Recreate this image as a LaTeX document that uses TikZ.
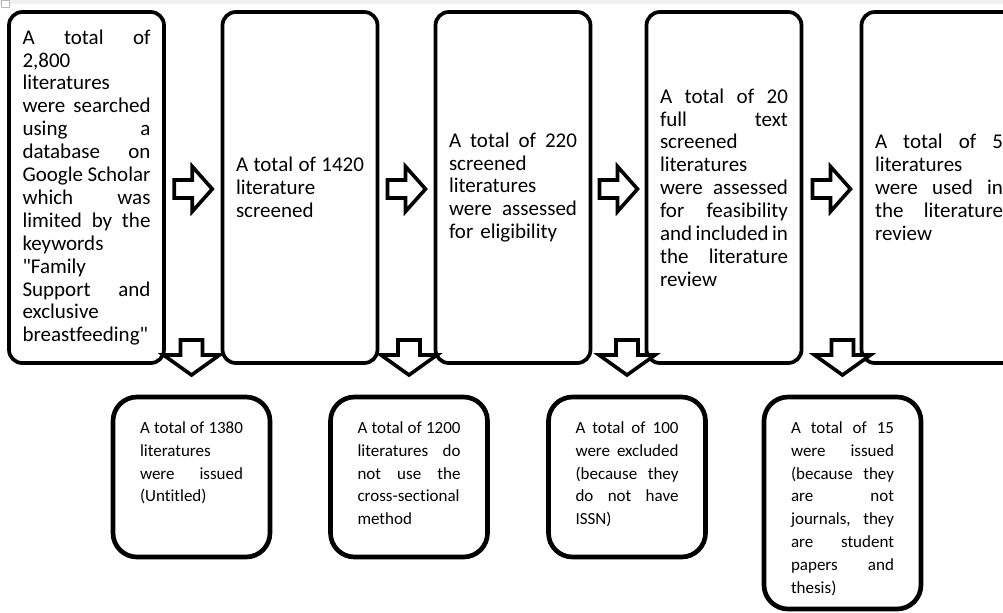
\documentclass[tikz,border=0pt]{standalone}
\usepackage{fontspec}
\setmainfont{Carlito}[Ligatures=NoCommon]
\newfontfamily\qfont{Carlito}
\usetikzlibrary{calc}
\newcommand\J[1]{\makebox[\linewidth][s]{\spaceskip=0pt\xspaceskip=0pt #1}}
\newcommand\dq{{\qfont"}}
\tikzset{
  topbox/.style={draw, line width=2.8pt, rounded corners=10pt, outer sep=0pt,
    minimum width=116.25pt, minimum height=263.25pt, text width=96pt, inner xsep=10pt,
    font=\fontsize{15.75}{17.17}\selectfont},
  botbox/.style={draw, line width=3.5pt, rounded corners=18pt, outer sep=0pt,
    minimum width=117.75pt, inner sep=0pt,
    font=\fontsize{12.75}{17.15}\selectfont},
  arrowline/.style={draw, line width=2.7pt, fill=white, line join=miter},
  rarrow/.pic={\path[arrowline] (-19,-9) -- (-1,-9) -- (-1,-22.5) -- (19,0) -- (-1,22.5) -- (-1,9) -- (-19,9) -- cycle;},
  darrow/.pic={\path[arrowline] (-11,-35) -- (11,-35) -- (11,-20) -- (28,-20) -- (0,0) -- (-28,-20) -- (-11,-20) -- (-11,-35) -- cycle;}
}
\begin{document}
\begin{tikzpicture}[x=0.75pt, y=-0.75pt]
\useasboundingbox (0,0) rectangle (1003,612);
\clip (0,0) rectangle (1003,612);
\fill[white] (0,0) rectangle (1003,612);
\fill[gray!12] (0,0) rectangle (1003,4);
\draw[gray!55, line width=0.6pt, fill=white] (1,0) rectangle (9,7);

% top row
\node[topbox] (t1) at (86.5,187.5) {\J{A total of}\\
2,800\\
literatures\\
\J{were searched}\\
\J{using a}\\
\J{database on}\\
\J{Google Scholar}\\
\J{which was}\\
\J{limited by the}\\
keywords\\
\dq Family\\
\J{Support and}\\
exclusive\\
breastfeeding\dq};
\node[topbox] (t2) at (300,187.5) {\J{A total of 1420}\\ literature\\ screened};
\node[topbox] (t3) at (513,187.5) {\J{A total of 220}\\ screened\\ literatures\\ \J{were assessed}\\ for eligibility};
\node[topbox] (t4) at (724,187.5) {\J{A total of 20}\\ \J{full text}\\ screened\\ literatures\\ \J{were assessed}\\ \J{for feasibility}\\ \J{and included in}\\ \J{the literature}\\ review};
\node[topbox] (t5) at (939,187.5) {\J{A total of 5}\\ literatures\\ \J{were used in}\\ \J{the literature}\\ review};

% bottom row
\node[botbox, minimum height=120pt] (b1) at (191.5,477) {\parbox[c][83.25pt][t]{77.25pt}{\J{A total of 1380}\\ literatures\\ \J{were issued}\\ (Untitled)}};
\node[botbox, minimum height=120pt] (b2) at (409,477) {\parbox[c][83.25pt][t]{77.25pt}{\J{A total of 1200}\\ \J{literatures do}\\ \J{not use the}\\ cross-sectional\\ method}};
\node[botbox, minimum height=120pt] (b3) at (627,477) {\parbox[c][83.25pt][t]{77.25pt}{\J{A total of 100}\\ \J{were excluded}\\ \J{(because they}\\ \J{do not have}\\ ISSN)}};
\node[botbox, minimum height=159pt] (b4) at (842.5,503) {\parbox[c][122.25pt][t]{77.25pt}{\J{A total of 15}\\ \J{were issued}\\ \J{(because they}\\ \J{are not}\\ \J{journals, they}\\ \J{are student}\\ \J{papers and}\\ thesis)}};

% right block arrows between top boxes
\pic (r1) at ($(t1.east)!0.5!(t2.west)+(0,1.5)$) {rarrow};
\pic (r2) at ($(t2.east)!0.5!(t3.west)+(0,1.5)$) {rarrow};
\pic (r3) at ($(t3.east)!0.5!(t4.west)+(0,1.5)$) {rarrow};
\pic (r4) at ($(t4.east)!0.5!(t5.west)+(0,1.5)$) {rarrow};

% down block arrows above bottom boxes
\pic (d1) at ($(b1.north)+(0,-22)$) {darrow};
\pic (d2) at ($(b2.north)+(0,-22)$) {darrow};
\pic (d3) at ($(b3.north)+(0,-22)$) {darrow};
\pic (d4) at ($(b4.north)+(0,-22)$) {darrow};
\end{tikzpicture}
\end{document}
